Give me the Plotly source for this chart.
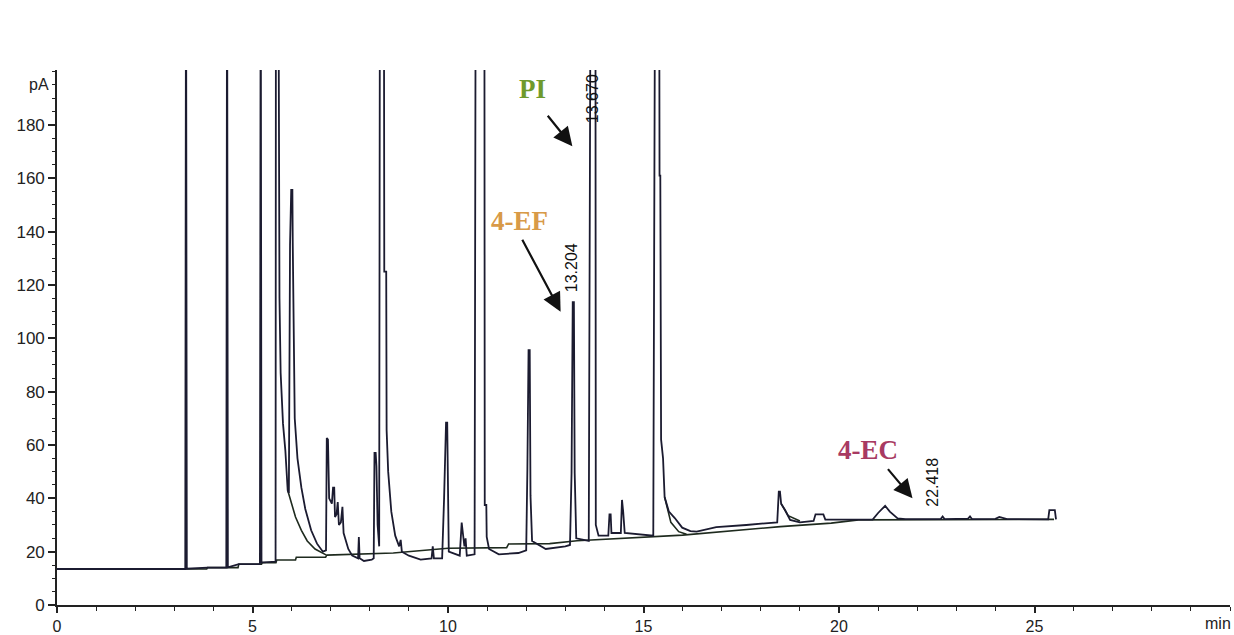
import plotly.graph_objects as go

# ---- data (time in min, signal in pA) ----
signal_t = [0, 3.28, 3.30, 3.32, 3.85, 4.33, 4.35, 4.37, 4.65, 5.19, 5.21, 5.23, 5.59,
            5.60, 5.66, 5.67, 5.69, 5.72, 5.78, 5.84, 5.90, 5.93, 5.96, 5.99, 6.02, 6.03,
            6.05, 6.08, 6.15, 6.25, 6.35, 6.50, 6.65, 6.80, 6.88, 6.90, 6.93, 6.96, 7.03,
            7.06, 7.09, 7.11, 7.15, 7.18, 7.21, 7.26, 7.30, 7.33, 7.45, 7.55, 7.70, 7.72,
            7.74, 7.85, 8.05, 8.10, 8.12, 8.15, 8.17, 8.20, 8.24, 8.26, 8.36, 8.37, 8.42,
            8.43, 8.47, 8.55, 8.65, 8.75, 8.79, 8.82, 9.00, 9.30, 9.58, 9.61, 9.64, 9.85,
            9.90, 9.95, 9.98, 10.00, 10.02, 10.30, 10.35, 10.38, 10.42, 10.45, 10.48, 10.68,
            10.71, 10.93, 10.94, 10.98, 10.99, 11.05, 11.30, 11.80, 12.00, 12.03, 12.06,
            12.09, 12.11, 12.15, 12.50, 13.00, 13.12, 13.16, 13.19, 13.22, 13.24, 13.28,
            13.60, 13.65, 13.77, 13.78, 13.85, 14.10, 14.13, 14.16, 14.18, 14.42, 14.45,
            14.48, 14.52, 15.25, 15.27, 15.30, 15.40, 15.41, 15.43, 15.45, 15.50, 15.54,
            15.65, 15.80, 15.99, 16.20, 16.36, 16.86, 17.63, 18.30, 18.42, 18.46, 18.49,
            18.52, 18.62, 18.75, 19.00, 19.35, 19.40, 19.60, 19.65, 20.86, 21.00, 21.18,
            21.30, 21.50, 21.70, 22.60, 22.65, 22.70, 23.30, 23.35, 23.40, 24.00, 24.10,
            24.30, 25.35, 25.38, 25.52, 25.55]
signal_y = [13.5, 13.5, 260, 13.6, 14.0, 14.0, 260, 14.1, 15.3, 15.3, 260, 15.9, 16.3,
            260, 260, 190, 115, 87, 68, 58, 43, 42, 135, 155.6, 155.6, 135,
            95, 70, 55, 44, 36, 28, 23, 20, 20.5, 62.6, 62, 40, 38,
            44, 44, 33, 34, 38.6, 30, 31, 36.8, 27, 21, 18.5, 17.5, 25.5,
            17.5, 16.5, 17, 17.5, 57, 57, 52, 30, 22, 260, 260, 125, 125,
            65.6, 50, 35, 26, 22, 24.4, 20, 18.5, 17, 17.5, 22, 17.5, 17.5,
            40, 68.4, 68.4, 30, 20, 18.5, 30.9, 27, 22, 25, 18.5, 19,
            260, 260, 37.5, 37.5, 25.5, 21, 19, 19.5, 20.5, 50.6, 95.6,
            95.6, 41, 24, 21, 22, 22.5, 49.5, 113.6, 113.6, 49.5, 25,
            24, 260, 260, 30, 26, 26, 34, 34, 27, 27, 39.4,
            35, 27, 26, 109, 260, 260, 161, 161, 62, 55, 40.5,
            35, 32.6, 29, 27.7, 27.5, 29.2, 30, 30.7, 31, 42.5, 42.5,
            38, 35.6, 31.9, 31, 31.5, 34, 34, 32, 32, 34.5, 37.2,
            35, 32.5, 32.2, 32.2, 33.2, 32.2, 32.4, 33.2, 32.2, 32.3, 33.0,
            32.2, 32.1, 35.6, 35.6, 32.1]

# integration baselines (tangent skims and projected baseline)
base_t = [0, 3.83, 3.85, 4.63, 4.65, 5.23, 5.25, 5.60, 5.62, 6.10, 6.12, 6.87, 6.90,
          8.60, 10.00, 11.50, 11.55, 12.60, 13.30, 14.10, 15.30, 16.00, 18.50, 19.80,
          20.50, 25.50, None,
          5.90, 6.00, 6.10, 6.25, 6.40, 6.60, 6.80, 6.88, None,
          15.54, 15.70, 15.90, 16.10, None,
          18.52, 18.70, 19.00]
base_y = [13.5, 13.5, 14.0, 14.0, 15.3, 15.3, 15.9, 15.9, 16.9, 16.9, 17.9, 17.9, 18.7,
          19.5, 21.3, 21.5, 22.9, 23.0, 24.1, 24.7, 25.5, 26.2, 29.4, 30.7,
          31.9, 32.1, None,
          43, 38, 33, 28, 24, 21, 19.5, 18.8, None,
          40.5, 31, 27.5, 26.5, None,
          38, 33.5, 31.5]

x_ticks = [0, 5, 10, 15, 20, 25]
x_tick_text = ["0", "5", "10", "15", "20", "25"]
x_unit = "min"
y_ticks = [0, 20, 40, 60, 80, 100, 120, 140, 160, 180]
y_unit = "pA"

# compound labels: text, colour, label position, arrow tail, arrow head
labels = ["PI", "4-EF", "4-EC"]
label_colors = ["#6f9a2c", "#d89a48", "#a83a62"]
label_x = [12.17, 11.84, 20.73]
label_y = [193.5, 144.0, 58.0]
arrow_tail_x = [12.52, 11.88, 21.22]
arrow_tail_y = [184.0, 137.5, 51.5]
arrow_head_x = [13.18, 12.88, 21.88]
arrow_head_y = [172.0, 110.0, 40.0]

# retention time labels
rt_text = ["13.670", "13.204", "22.418"]
rt_x = [13.68, 13.16, 22.39]
rt_y = [190.0, 126.5, 46.0]

fig = go.Figure()
line_col = "#1b1b30"
fig.add_trace(go.Scatter(x=base_t, y=base_y, mode="lines",
                         line=dict(color="#1e2a1e", width=1.6), connectgaps=False,
                         hoverinfo="skip", showlegend=False))
fig.add_trace(go.Scatter(x=signal_t, y=signal_y, mode="lines",
                         line=dict(color=line_col, width=1.8),
                         showlegend=False))

tick_font = dict(family="Liberation Sans, Arial, sans-serif", size=17, color="#222222")
ann = []
for t, c, x, y in zip(labels, label_colors, label_x, label_y):
    ann.append(dict(x=x, y=y, xref="x", yref="y", text="<b>%s</b>" % t, showarrow=False,
                    font=dict(family="Liberation Serif, Times New Roman, serif", size=27, color=c)))
for tx, ty, hx, hy in zip(arrow_tail_x, arrow_tail_y, arrow_head_x, arrow_head_y):
    ann.append(dict(x=hx, y=hy, ax=tx, ay=ty, xref="x", yref="y", axref="x", ayref="y",
                    text="", showarrow=True, arrowhead=2, arrowsize=1.7, arrowwidth=2.2,
                    arrowcolor="#111111"))
for t, x, y in zip(rt_text, rt_x, rt_y):
    ann.append(dict(x=x, y=y, xref="x", yref="y", text=t, showarrow=False, textangle=-90,
                    font=dict(family="Liberation Sans, Arial, sans-serif", size=16, color="#111111")))
ann.append(dict(x=0, y=195, xref="paper", yref="y", text=y_unit, showarrow=False,
                xanchor="right", xshift=-6,
                font=dict(family="Liberation Sans, Arial, sans-serif", size=16, color="#222222")))
ann.append(dict(x=1, y=0, xref="paper", yref="paper", text=x_unit, showarrow=False,
                xanchor="right", yanchor="top", xshift=3, yshift=-8,
                font=dict(family="Liberation Sans, Arial, sans-serif", size=16, color="#222222")))

fig.update_layout(
    width=1234, height=635,
    margin=dict(l=57, r=4, t=70, b=30, autoexpand=False),
    paper_bgcolor="white", plot_bgcolor="white",
    annotations=ann,
    xaxis=dict(range=[0, 30], tickvals=x_ticks, ticktext=x_tick_text, showgrid=False,
               automargin=False,
               zeroline=False, showline=True, linecolor="#222222", linewidth=1.6,
               ticks="outside", ticklen=6, tickwidth=1.6, tickcolor="#222222",
               minor=dict(dtick=1, ticks="outside", ticklen=4, tickcolor="#222222", tickwidth=1.2),
               tickfont=dict(family="Liberation Sans, Arial, sans-serif", size=16, color="#222222")),
    yaxis=dict(range=[0, 200.6], tickvals=y_ticks, showgrid=False, zeroline=False,
               automargin=False,
               showline=True, linecolor="#222222", linewidth=1.6,
               ticks="outside", ticklen=7, tickwidth=1.6, tickcolor="#222222",
               minor=dict(dtick=5, ticks="outside", ticklen=3, tickcolor="#222222", tickwidth=1.2),
               tickfont=tick_font),
)

fig.write_html("out.html", config={"displayModeBar": False},
               post_script="document.body.style.margin='0';document.body.style.overflow='hidden';")
